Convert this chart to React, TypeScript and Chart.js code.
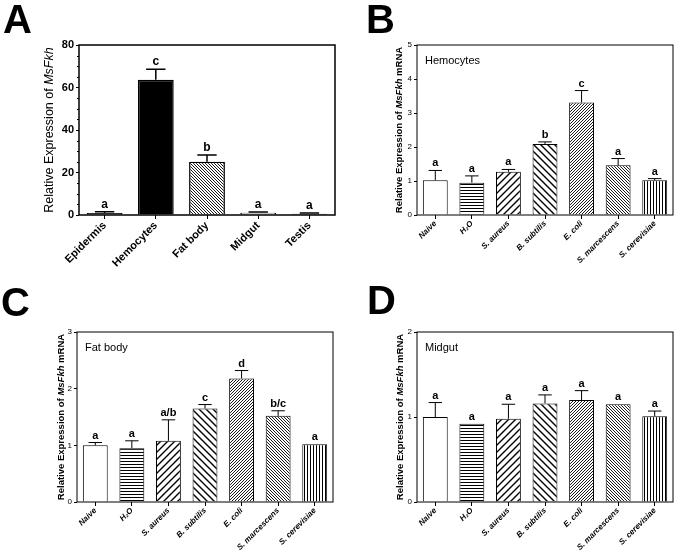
import React, { useEffect, useRef } from "react";
import { Chart, registerables } from "chart.js";
Chart.register(...registerables);

const FONT = "'Liberation Sans', Arial, Helvetica, sans-serif";

// ---- Panel A: tissue distribution ----
const tissueLabels = ["Epidermis", "Hemocytes", "Fat body", "Midgut", "Testis"];
const tissueValues = [1.0, 63.6, 25.1, 1.1, 0.6];
const tissueErrors = [0.5, 5.0, 3.1, 0.3, 0.4];
const tissueLetters = ["a", "c", "b", "a", "a"];
const tissueFills = ["black", "black", "backFine", "dots", "black"];

// ---- Panels B-D: immune challenge ----
const treatmentLabels = ["Naive", "H\u2082O", "S. aureus", "B. subtilis", "E. coli", "S. marcescens", "S. cerevisiae"];
const treatmentFills = ["white", "hlines", "fwd", "back", "fwdFine", "backFine", "vlines"];

const hemocyteValues = [1.02, 0.95, 1.27, 2.09, 3.31, 1.46, 1.02];
const hemocyteErrors = [0.29, 0.2, 0.07, 0.06, 0.35, 0.2, 0.05];
const hemocyteLetters = ["a", "a", "a", "b", "c", "a", "a"];

const fatBodyValues = [1.0, 0.95, 1.08, 1.65, 2.18, 1.52, 1.02];
const fatBodyErrors = [0.05, 0.13, 0.37, 0.07, 0.14, 0.09, 0];
const fatBodyLetters = ["a", "a", "a/b", "c", "d", "b/c", "a"];

const midgutValues = [1.0, 0.92, 0.98, 1.16, 1.2, 1.15, 1.01];
const midgutErrors = [0.17, 0, 0.17, 0.1, 0.11, 0, 0.06];
const midgutLetters = ["a", "a", "a", "a", "a", "a", "a"];

type Part = { text: string; italic?: boolean };

function makeFill(kind: string): string | CanvasPattern {
  if (kind === "white") return "#ffffff";
  if (kind === "black") return "#000000";
  const c = document.createElement("canvas");
  let s = 3;
  if (kind === "fwd" || kind === "back") s = 7;
  if (kind === "dots") s = 3;
  c.width = s;
  c.height = s;
  const g = c.getContext("2d")!;
  g.fillStyle = "#ffffff";
  g.fillRect(0, 0, s, s);
  g.strokeStyle = "#000000";
  g.fillStyle = "#000000";
  if (kind === "hlines") {
    g.fillRect(0, 1, s, 1);
  } else if (kind === "vlines") {
    g.fillRect(1, 0, 1, s);
  } else if (kind === "dots") {
    g.fillRect(1, 1, 1, 1);
  } else if (kind === "fwd" || kind === "fwdFine") {
    g.lineWidth = kind === "fwd" ? 1.4 : 0.9;
    g.beginPath();
    g.moveTo(0, s); g.lineTo(s, 0);
    g.moveTo(-1, 1); g.lineTo(1, -1);
    g.moveTo(s - 1, s + 1); g.lineTo(s + 1, s - 1);
    g.stroke();
  } else if (kind === "back" || kind === "backFine") {
    g.lineWidth = kind === "back" ? 1.4 : 0.9;
    g.beginPath();
    g.moveTo(0, 0); g.lineTo(s, s);
    g.moveTo(-1, s - 1); g.lineTo(1, s + 1);
    g.moveTo(s - 1, -1); g.lineTo(s + 1, 1);
    g.stroke();
  }
  const ctx = document.createElement("canvas").getContext("2d")!;
  return ctx.createPattern(c, "repeat")!;
}

interface PanelProps {
  left: number; top: number; width: number; height: number;
  area: { left: number; top: number; right: number; bottom: number };
  labels: string[]; values: number[]; errors: number[]; letters: string[]; fills: string[];
  yMax: number; yStep: number; minorStep?: number;
  title: Part[]; titleX: number; titleSize: number; titleBold: boolean;
  inset?: string;
  yFont: any; xFont: any; letterFont: string; barPct: number; lineW: number; frameW: number;
}

function Panel(p: PanelProps) {
  const ref = useRef<HTMLCanvasElement>(null);
  useEffect(() => {
    const canvas = ref.current!;
    const overlay = {
      id: "overlay",
      afterDatasetsDraw(chart: any) {
        const ctx: CanvasRenderingContext2D = chart.ctx;
        const ys = chart.scales.y;
        const meta = chart.getDatasetMeta(0);
        meta.data.forEach((bar: any, i: number) => {
          const v = p.values[i];
          const e = p.errors[i];
          const x = bar.x;
          const w = bar.width;
          const yBar = ys.getPixelForValue(v);
          const yTop = ys.getPixelForValue(v + e);
          ctx.save();
          ctx.strokeStyle = "#000";
          ctx.lineWidth = p.lineW;
          if (e > 0) {
            ctx.beginPath();
            ctx.moveTo(x, yBar);
            ctx.lineTo(x, yTop);
            ctx.moveTo(x - w * 0.27, yTop);
            ctx.lineTo(x + w * 0.27, yTop);
            ctx.stroke();
          }
          ctx.fillStyle = "#000";
          ctx.font = p.letterFont;
          ctx.textAlign = "center";
          ctx.textBaseline = "alphabetic";
          ctx.fillText(p.letters[i], x, yTop - 4);
          ctx.restore();
        });
      },
      afterDraw(chart: any) {
        const ctx: CanvasRenderingContext2D = chart.ctx;
        const a = chart.chartArea;
        const ys = chart.scales.y;
        ctx.save();
        ctx.strokeStyle = "#000";
        ctx.lineWidth = p.frameW;
        ctx.strokeRect(a.left, a.top, a.right - a.left, a.bottom - a.top);
        if (p.minorStep) {
          ctx.lineWidth = 1;
          ctx.beginPath();
          for (let v = 0; v <= p.yMax; v += p.minorStep) {
            if (v % p.yStep === 0) continue;
            const y = Math.round(ys.getPixelForValue(v)) + 0.5;
            ctx.moveTo(a.left - 2, y);
            ctx.lineTo(a.left, y);
          }
          ctx.stroke();
        }
        // y title
        ctx.translate(p.titleX, (a.top + a.bottom) / 2);
        ctx.rotate(-Math.PI / 2);
        const fonts = p.title.map(
          (t) => `${t.italic ? "italic " : ""}${p.titleBold ? "bold " : ""}${p.titleSize}px ${FONT}`
        );
        let total = 0;
        const widths = p.title.map((t, i) => {
          ctx.font = fonts[i];
          const w = ctx.measureText(t.text).width;
          total += w;
          return w;
        });
        let x = -total / 2;
        ctx.fillStyle = "#000";
        ctx.textBaseline = "middle";
        ctx.textAlign = "left";
        p.title.forEach((t, i) => {
          ctx.font = fonts[i];
          ctx.fillText(t.text, x, 0);
          x += widths[i];
        });
        ctx.restore();
        if (p.inset) {
          ctx.save();
          ctx.fillStyle = "#000";
          ctx.font = `11px ${FONT}`;
          ctx.textBaseline = "top";
          ctx.textAlign = "left";
          ctx.fillText(p.inset, a.left + 8, a.top + 10);
          ctx.restore();
        }
      },
    };
    const chart = new Chart(canvas, {
      type: "bar",
      data: {
        labels: p.labels,
        datasets: [
          {
            data: p.values,
            backgroundColor: p.fills.map(makeFill) as any,
            borderColor: "#000",
            borderWidth: p.lineW,
            barPercentage: p.barPct,
            categoryPercentage: 1,
          },
        ],
      },
      options: {
        animation: false,
        responsive: false,
        maintainAspectRatio: false,
        devicePixelRatio: 1,
        layout: { padding: { top: p.area.top, right: p.width - p.area.right, left: 0, bottom: 0 } },
        plugins: { legend: { display: false }, tooltip: { enabled: false }, title: { display: false } },
        scales: {
          x: {
            grid: { display: true, drawOnChartArea: false, drawTicks: true, tickLength: 4, color: "#000", offset: false },
            border: { display: false },
            ticks: { autoSkip: false, maxRotation: 45, minRotation: 45, color: "#000", font: p.xFont, padding: 0 },
            afterFit: (s: any) => { s.height = p.height - p.area.bottom; },
          },
          y: {
            min: 0,
            max: p.yMax,
            ticks: { stepSize: p.yStep, color: "#000", font: p.yFont, padding: 2 },
            grid: { display: true, drawOnChartArea: false, drawTicks: true, tickLength: 3, color: "#000" },
            border: { display: false },
            afterFit: (s: any) => { s.width = p.area.left; },
          },
        },
      } as any,
      plugins: [overlay],
    });
    return () => chart.destroy();
  }, []);
  return (
    <canvas
      ref={ref}
      width={p.width}
      height={p.height}
      style={{ position: "absolute", left: p.left, top: p.top, width: p.width, height: p.height }}
    />
  );
}

const smallX = { family: FONT, size: 8, style: "italic", weight: "bold" };
const smallY = { family: FONT, size: 8 };
const mrnaTitle: Part[] = [
  { text: "Relative Expression of " },
  { text: "MsFkh", italic: true },
  { text: " mRNA" },
];

const letterStyle = (left: number, top: number): React.CSSProperties => ({
  position: "absolute",
  left,
  top,
  fontFamily: FONT,
  fontWeight: "bold",
  fontSize: 40,
  lineHeight: "40px",
  color: "#000",
});

export default function App() {
  return (
    <div style={{ position: "absolute", left: 0, top: 0, width: 675, height: 553, background: "#fff", overflow: "hidden" }}>
      <Panel
        left={0} top={0} width={340} height={275}
        area={{ left: 79, top: 45, right: 335, bottom: 215 }}
        labels={tissueLabels} values={tissueValues} errors={tissueErrors} letters={tissueLetters} fills={tissueFills}
        yMax={80} yStep={20} minorStep={5}
        title={[{ text: "Relative Expression of " }, { text: "MsFkh", italic: true }]}
        titleX={50} titleSize={12.5} titleBold={false}
        yFont={{ family: FONT, size: 11, weight: "bold" }}
        xFont={{ family: FONT, size: 11, weight: "bold" }}
        letterFont={`bold 12px ${FONT}`} barPct={0.7} lineW={1.5} frameW={1.5}
      />
      <Panel
        left={340} top={0} width={335} height={280}
        area={{ left: 77, top: 45, right: 333, bottom: 215 }}
        labels={treatmentLabels} values={hemocyteValues} errors={hemocyteErrors} letters={hemocyteLetters} fills={treatmentFills}
        yMax={5} yStep={1}
        title={mrnaTitle} titleX={59} titleSize={9.5} titleBold={true}
        inset="Hemocytes"
        yFont={smallY} xFont={smallX}
        letterFont={`bold 11px ${FONT}`} barPct={0.68} lineW={1} frameW={1}
      />
      <Panel
        left={0} top={280} width={340} height={273}
        area={{ left: 77, top: 52, right: 333, bottom: 222 }}
        labels={treatmentLabels} values={fatBodyValues} errors={fatBodyErrors} letters={fatBodyLetters} fills={treatmentFills}
        yMax={3} yStep={1}
        title={mrnaTitle} titleX={61} titleSize={9.5} titleBold={true}
        inset="Fat body"
        yFont={smallY} xFont={smallX}
        letterFont={`bold 11px ${FONT}`} barPct={0.68} lineW={1} frameW={1}
      />
      <Panel
        left={340} top={280} width={335} height={273}
        area={{ left: 77, top: 52, right: 333, bottom: 222 }}
        labels={treatmentLabels} values={midgutValues} errors={midgutErrors} letters={midgutLetters} fills={treatmentFills}
        yMax={2} yStep={1}
        title={mrnaTitle} titleX={60} titleSize={9.5} titleBold={true}
        inset="Midgut"
        yFont={smallY} xFont={smallX}
        letterFont={`bold 11px ${FONT}`} barPct={0.68} lineW={1} frameW={1}
      />
      <div style={letterStyle(3, -1)}>A</div>
      <div style={letterStyle(366, -1)}>B</div>
      <div style={letterStyle(1, 282)}>C</div>
      <div style={letterStyle(367, 280)}>D</div>
    </div>
  );
}
